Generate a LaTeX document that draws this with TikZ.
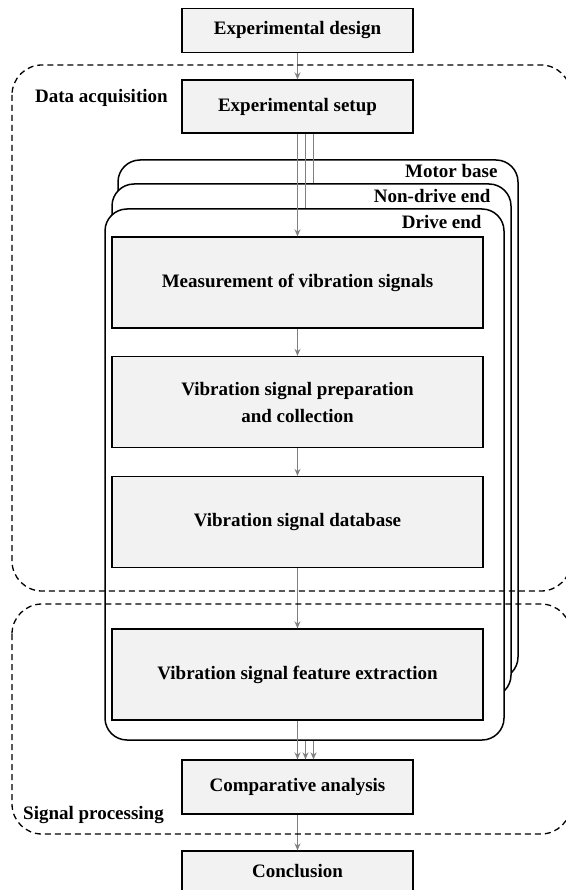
\documentclass[tikz,border=0pt]{standalone}
\usepackage{fontspec}
\setmainfont{Liberation Serif}
\usetikzlibrary{arrows.meta,calc}
\definecolor{boxfill}{HTML}{F2F2F2}

\begin{document}
\begin{tikzpicture}[x=1pt,y=-1pt,
  box/.style={draw=black, line width=1.3pt, fill=boxfill, align=center, inner sep=0pt,
    font=\bfseries\fontsize{19}{27}\selectfont},
  smallbox/.style={box, minimum width=231, minimum height=46},
  bigbox/.style={box, minimum width=371, minimum height=91},
  layer/.style={draw=black, line width=1.5pt, fill=white, rounded corners=22pt},
  region/.style={draw=black, line width=1.3pt, dash pattern=on 6pt off 4pt, rounded corners=30pt},
  flow/.style={draw=gray, line width=1.8pt, -{Stealth[length=7pt,width=6pt]}},
  tag/.style={font=\bfseries\fontsize{19}{23}\selectfont, inner sep=0pt}]
  \useasboundingbox (0,0) rectangle (565,890);
  % Outer steps
  \node[smallbox, minimum height=44] (design) at (297.5,30.5) {Experimental design};
  \node[smallbox, minimum height=53] (setup) at (297.5,106.5) {Experimental setup};
  % Measurement positions (back to front)
  \node[layer, minimum width=400, minimum height=519] (mb) at (318,419.5) {};
  \node[layer, minimum width=399, minimum height=513] (nd) at (311.5,440.5) {};
  \node[layer, minimum width=399, minimum height=531] (de) at (304.5,474.5) {};
  \node[tag, anchor=east] (mblabel) at ($(mb.north east)+(-21,12)$) {Motor base};
  \node[tag, anchor=east] (ndlabel) at ($(nd.north east)+(-21,13)$) {Non-drive end};
  \node[tag, anchor=east] (delabel) at ($(de.north east)+(-23,14)$) {Drive end};
  % Processing chain
  \node[bigbox] (meas) at (297.5,282.5) {Measurement of vibration signals};
  \node[bigbox] (prep) at (297.5,402) {Vibration signal preparation\\and collection};
  \node[bigbox] (db) at (297.5,522) {Vibration signal database};
  \node[bigbox] (fe) at (297.5,674.5) {Vibration signal feature extraction};
  \node[smallbox, minimum height=54] (cmp) at (297.5,787) {Comparative analysis};
  \node[smallbox, minimum height=40] (concl) at (297.5,871) {Conclusion};
  % Connectors
  \coordinate (s2) at ($(setup.south)+(8,0)$);
  \coordinate (s3) at ($(setup.south)+(16,0)$);
  \coordinate (c2) at ($(cmp.north)+(8,0)$);
  \coordinate (c3) at ($(cmp.north)+(16,0)$);
  \draw[flow] (design) -- (setup);
  \draw[draw=gray, line width=1.8pt] (s3) -- (s3 |- nd.north);
  \draw[draw=gray, line width=1.8pt] (s2) -- (s2 |- de.north);
  \draw[flow] (setup) -- (meas);
  \draw[flow] (meas) -- (prep);
  \draw[flow] (prep) -- (db);
  \draw[flow] (db) -- (fe);
  \draw[flow] (fe) -- (cmp);
  \draw[flow] (c2 |- de.south) -- (c2);
  \draw[flow] (c3 |- de.south) -- (c3);
  \draw[flow] (cmp) -- (concl);
  % Stages
  \draw[region] (12,65) rectangle (571,591);
  \draw[region] (12,604) rectangle (571,834);
  \node[tag, anchor=west] (acq) at (35,98) {Data acquisition};
  \node[tag, anchor=west] (proc) at (23,815) {Signal processing};
\end{tikzpicture}
\end{document}
